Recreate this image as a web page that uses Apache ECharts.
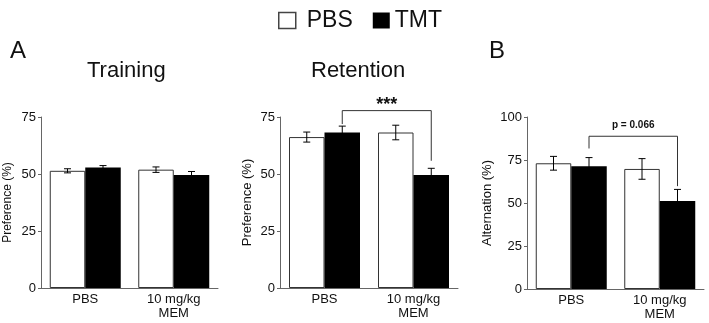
<!DOCTYPE html>
<html>
<head>
<meta charset="utf-8">
<script src="https://cdn.jsdelivr.net/npm/echarts@6/dist/echarts.min.js"></script>
<style>
  html, body { margin: 0; padding: 0; background: #fff; }
  #main { width: 709px; height: 323px; }
</style>
</head>
<body>
<div id="main"></div>
<script>
// data
var categories = ['PBS', '10 mg/kg\nMEM'];

var trainPBS = [51.4, 51.9];
var trainPBSErr = [0.9, 1.2];
var trainTMT = [52.9, 49.6];
var trainTMTErr = [0.8, 1.5];

var retPBS = [66.2, 68.2];
var retPBSErr = [2.2, 3.2];
var retTMT = [68.2, 49.6];
var retTMTErr = [2.8, 2.9];

var altPBS = [73.1, 69.8];
var altPBSErr = [4.0, 6.0];
var altTMT = [71.4, 51.2];
var altTMTErr = [5.0, 6.7];

// bracket: [line level, left end, right end]
var retBracket = [77.8, 71.9, 55.8];
var retBracketLabel = '***';
var altBracket = [88.8, 81.7, 59.8];
var altBracketLabel = 'p = 0.066';

var prefMax = 75, altMax = 100, tickStep = 25;

var FONT = "'Liberation Sans', Arial, sans-serif";
var BAR_W = 35.5;
var CAP = 3.5;

function errSeries(grid, vals, errs, side) {
    var d = [];
    for (var i = 0; i < vals.length; i++) d.push([i, vals[i], errs[i]]);
    return {
        type: 'custom',
        xAxisIndex: grid, yAxisIndex: grid,
        z: 5,
        silent: true,
        data: d,
        renderItem: function (params, api) {
            var i = api.value(0), v = api.value(1), e = api.value(2);
            var x = api.coord([i, v])[0] + side * BAR_W / 2;
            var yt = api.coord([i, v + e])[1];
            var yb = api.coord([i, v - e])[1];
            var st = { stroke: '#000', lineWidth: 1 };
            return {
                type: 'group',
                children: [
                    { type: 'line', shape: { x1: x, y1: yt, x2: x, y2: yb }, style: st },
                    { type: 'line', shape: { x1: x - CAP, y1: yt, x2: x + CAP, y2: yt }, style: st },
                    { type: 'line', shape: { x1: x - CAP, y1: yb, x2: x + CAP, y2: yb }, style: st }
                ]
            };
        }
    };
}

function bracketSeries(grid, br, label, fontSize, weight, labelGap) {
    return {
        type: 'custom',
        xAxisIndex: grid, yAxisIndex: grid,
        z: 6,
        silent: true,
        clip: false,
        data: [[0, br[0]]],
        renderItem: function (params, api) {
            var xl = api.coord([0, br[0]])[0] + BAR_W / 2;
            var xr = api.coord([1, br[0]])[0] + BAR_W / 2;
            var yl = api.coord([0, br[0]])[1];
            var y1 = api.coord([0, br[1]])[1];
            var y2 = api.coord([1, br[2]])[1];
            return {
                type: 'group',
                children: [
                    {
                        type: 'polyline',
                        shape: { points: [[xl, y1], [xl, yl], [xr, yl], [xr, y2]] },
                        style: { stroke: '#333', lineWidth: 1, fill: null }
                    },
                    {
                        type: 'text',
                        style: {
                            text: label, x: (xl + xr) / 2, y: yl - labelGap,
                            align: 'center', verticalAlign: 'middle',
                            font: weight + ' ' + fontSize + 'px ' + FONT,
                            fill: '#111'
                        }
                    }
                ]
            };
        }
    };
}

function barSeries(grid, name, vals) {
    var pbs = name === 'PBS';
    return {
        name: name,
        type: 'bar',
        xAxisIndex: grid, yAxisIndex: grid,
        barWidth: BAR_W,
        barGap: '0%',
        data: vals,
        itemStyle: pbs ? { color: '#fff', borderColor: '#333', borderWidth: 1 } : { color: '#000' }
    };
}

function xAx(grid) {
    return {
        type: 'category', gridIndex: grid, data: categories,
        axisLine: { lineStyle: { color: '#666', width: 1 } },
        axisTick: { show: false },
        axisLabel: { color: '#111', fontSize: 13, fontFamily: FONT, margin: 4, lineHeight: 14 }
    };
}

function yAx(grid, max, name, nameSize, gap) {
    return {
        type: 'value', gridIndex: grid, min: 0, max: max, interval: tickStep,
        name: name, nameLocation: 'middle', nameGap: gap,
        nameTextStyle: { color: '#111', fontSize: nameSize, fontFamily: FONT },
        axisLine: { show: true, lineStyle: { color: '#666', width: 1 } },
        axisTick: { show: true, length: 3, lineStyle: { color: '#666' } },
        splitLine: { show: false },
        axisLabel: { color: '#111', fontSize: 13, fontFamily: FONT, margin: 5 }
    };
}

function ttl(text, left, top, size) {
    return {
        text: text, left: left, top: top, padding: 0,
        textStyle: { fontSize: size, fontWeight: 'normal', color: '#111', fontFamily: FONT }
    };
}

var chart = echarts.init(document.getElementById('main'));
chart.setOption({
    animation: false,
    title: [
        ttl('A', 10, 39, 24),
        ttl('B', 489, 39, 24),
        ttl('Training', 87, 60, 22),
        ttl('Retention', 311, 60, 22)
    ],
    legend: {
        left: 273, top: 4,
        itemWidth: 17, itemHeight: 16, itemGap: 20,
        icon: 'rect',
        textStyle: { fontSize: 23, color: '#111', fontFamily: FONT },
        data: [
            { name: 'PBS', textStyle: { padding: [0, 0, 0, 6] }, itemStyle: { borderWidth: 1.5, borderColor: '#444' } },
            { name: 'TMT' }
        ]
    },
    grid: [
        { left: 41, top: 117, width: 177, height: 171 },
        { left: 280, top: 117, width: 178, height: 171 },
        { left: 527, top: 117, width: 177, height: 172 }
    ],
    xAxis: [xAx(0), xAx(1), xAx(2)],
    yAxis: [
        yAx(0, prefMax, 'Preference (%)', 12, 27),
        yAx(1, prefMax, 'Preference (%)', 13, 26),
        yAx(2, altMax, 'Alternation (%)', 13, 33)
    ],
    series: [
        barSeries(0, 'PBS', trainPBS), barSeries(0, 'TMT', trainTMT),
        barSeries(1, 'PBS', retPBS), barSeries(1, 'TMT', retTMT),
        barSeries(2, 'PBS', altPBS), barSeries(2, 'TMT', altTMT),
        errSeries(0, trainPBS, trainPBSErr, -1), errSeries(0, trainTMT, trainTMTErr, 1),
        errSeries(1, retPBS, retPBSErr, -1), errSeries(1, retTMT, retTMTErr, 1),
        errSeries(2, altPBS, altPBSErr, -1), errSeries(2, altTMT, altTMTErr, 1),
        bracketSeries(1, retBracket, retBracketLabel, 18, 'bold', 6),
        bracketSeries(2, altBracket, altBracketLabel, 10, 'bold', 11)
    ]
});
</script>
</body>
</html>
